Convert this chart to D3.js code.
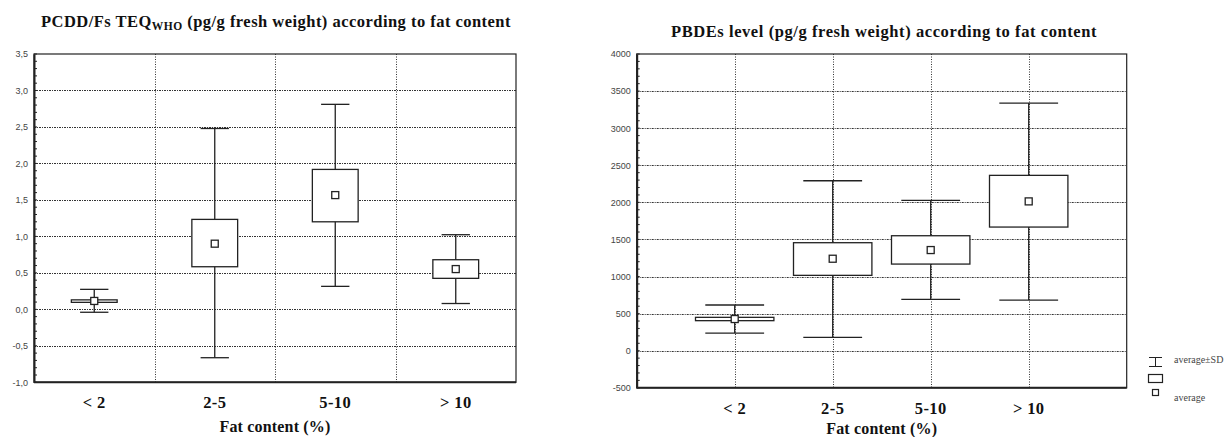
<!DOCTYPE html>
<html><head><meta charset="utf-8">
<script src="https://cdn.jsdelivr.net/npm/d3@7"></script>
<style>
html,body{margin:0;padding:0;background:#fff;}
svg{display:block;}
</style></head>
<body>
<svg id="chart" width="1228" height="437"></svg>
<script>
// ---- data ----
const categories = ["< 2", "2-5", "5-10", "> 10"];

// PCDD/Fs TEQ (pg/g fresh weight)
const pcddMean     = [0.115, 0.90, 1.566, 0.552];
const pcddBoxLow   = [0.096, 0.584, 1.20, 0.425];
const pcddBoxHigh  = [0.130, 1.233, 1.918, 0.680];
const pcddSdLow    = [-0.04, -0.663, 0.315, 0.080];
const pcddSdHigh   = [0.274, 2.479, 2.81, 1.023];
const pcddTicks    = [-1.0, -0.5, 0.0, 0.5, 1.0, 1.5, 2.0, 2.5, 3.0, 3.5];

// PBDEs level (pg/g fresh weight)
const pbdeMean     = [427, 1240, 1357, 2013];
const pbdeBoxLow   = [405, 1016, 1168, 1667];
const pbdeBoxHigh  = [450, 1456, 1550, 2364];
const pbdeSdLow    = [238, 180, 693, 683];
const pbdeSdHigh   = [616, 2291, 2027, 3338];
const pbdeTicks    = [-500, 0, 500, 1000, 1500, 2000, 2500, 3000, 3500, 4000];

const legendLabels = ["average±SD", "", "average"];

// ---- drawing ----
const svg = d3.select("#chart");
const INK = "#222";
const GRID = "#333";
const SERIF = "Liberation Serif, Times New Roman, serif";

function fitWidth(sel, target) {
  const node = sel.node();
  const w = node.getComputedTextLength ? node.getComputedTextLength() : node.getBBox().width;
  const n = (node.textContent || "").length;
  if (n > 1) sel.attr("letter-spacing", ((target - w) / n).toFixed(3));
}

function rows(mean, bl, bh, sl, sh) {
  return categories.map((c, i) => ({cat: c, mean: mean[i], bl: bl[i], bh: bh[i], sl: sl[i], sh: sh[i]}));
}

function drawPanel(opt) {
  const g = svg.append("g");
  const {x0, x1, y0, y1, ticks, fmt, data, mode, boxW, capW} = opt;
  const y = d3.scaleLinear().domain([ticks[0], ticks[ticks.length - 1]]).range([y1, y0]);
  let x, gridX;
  if (mode === "band") {
    x = d3.scaleBand().domain(categories).range([x0, x1]).paddingInner(0).paddingOuter(0);
    gridX = categories.slice(1).map(c => x(c));
    x.center = c => x(c) + x.bandwidth() / 2; x.unit = x.bandwidth();
  } else {
    x = d3.scalePoint().domain(categories).range([x0, x1]).padding(1);
    gridX = categories.map(c => x(c));
    x.center = c => x(c); x.unit = x.step();
  }

  // horizontal grid
  g.append("g").selectAll("line").data(ticks.slice(1, -1)).join("line")
    .attr("x1", x0).attr("x2", x1)
    .attr("y1", d => Math.round(y(d)) + 0.5).attr("y2", d => Math.round(y(d)) + 0.5)
    .attr("stroke", GRID).attr("stroke-width", 1).attr("stroke-dasharray", "2,1,1,1");
  // vertical grid
  g.append("g").selectAll("line").data(gridX).join("line")
    .attr("x1", d => Math.round(d) + 0.5).attr("x2", d => Math.round(d) + 0.5)
    .attr("y1", y0).attr("y2", y1)
    .attr("stroke", GRID).attr("stroke-width", 1).attr("stroke-dasharray", "1,1.5");

  // frame
  g.append("rect").attr("x", x0).attr("y", y0).attr("width", x1 - x0).attr("height", y1 - y0)
    .attr("fill", "none").attr("stroke", INK).attr("stroke-width", 1.2);
  // y axis
  const axis = d3.axisLeft(y).tickValues(ticks).tickFormat(fmt).tickSize(0).tickPadding(6);
  const ag = g.append("g").attr("transform", `translate(${x0},0)`).call(axis);
  ag.select(".domain").attr("stroke", INK).attr("stroke-width", 2);
  ag.selectAll("text").attr("font-family", "Liberation Sans, Arial, sans-serif")
    .attr("font-size", 9).attr("fill", "#444");
  // minor ticks inside
  const step = (ticks[1] - ticks[0]) / 5;
  const minor = d3.range(ticks[0], ticks[ticks.length - 1] + step / 2, step);
  g.append("g").selectAll("line").data(minor).join("line")
    .attr("x1", x0).attr("x2", x0 + 3)
    .attr("y1", d => y(d)).attr("y2", d => y(d))
    .attr("stroke", INK).attr("stroke-width", 1);
  // bottom axis line
  g.append("line").attr("x1", x0).attr("x2", x1).attr("y1", y1).attr("y2", y1)
    .attr("stroke", INK).attr("stroke-width", 2);

  // category labels
  const xg = g.append("g").attr("transform", `translate(0,${y1 + 26})`);
  xg.selectAll("text").data(categories).join("text")
    .attr("x", d => x.center(d)).attr("y", 0)
    .attr("text-anchor", "middle")
    .attr("font-family", SERIF)
    .attr("font-weight", "bold").attr("font-size", 16.5).attr("letter-spacing", 0.4).attr("fill", "#111")
    .text(d => d);
  const xt = g.append("text").attr("x", (x0 + x1) / 2).attr("y", opt.xtitleY)
    .attr("text-anchor", "middle")
    .attr("font-family", SERIF)
    .attr("font-weight", "bold").attr("font-size", 16).attr("fill", "#111")
    .text("Fat content (%)");
  fitWidth(xt, 111);

  // boxes
  const bw = x.unit * boxW, cw = x.unit * capW;
  const b = g.append("g").selectAll("g").data(data).join("g");
  b.append("line").attr("x1", d => x.center(d.cat)).attr("x2", d => x.center(d.cat))
    .attr("y1", d => y(d.sh)).attr("y2", d => y(d.sl))
    .attr("stroke", INK).attr("stroke-width", 1.3);
  b.append("line").attr("x1", d => x.center(d.cat) - cw / 2).attr("x2", d => x.center(d.cat) + cw / 2)
    .attr("y1", d => y(d.sh)).attr("y2", d => y(d.sh))
    .attr("stroke", INK).attr("stroke-width", 1.3);
  b.append("line").attr("x1", d => x.center(d.cat) - cw / 2).attr("x2", d => x.center(d.cat) + cw / 2)
    .attr("y1", d => y(d.sl)).attr("y2", d => y(d.sl))
    .attr("stroke", INK).attr("stroke-width", 1.3);
  b.append("rect").attr("x", d => x.center(d.cat) - bw / 2).attr("width", bw)
    .attr("y", d => y(d.bh)).attr("height", d => Math.max(2, y(d.bl) - y(d.bh)))
    .attr("fill", "#fff").attr("stroke", INK).attr("stroke-width", 1.3);
  b.append("rect").attr("x", d => x.center(d.cat) - 3.5).attr("width", 7)
    .attr("y", d => y(d.mean) - 3.5).attr("height", 7)
    .attr("fill", "#fff").attr("stroke", INK).attr("stroke-width", 1.3);
  return g;
}

const commaFmt = d => d3.format(".1f")(d).replace(".", ",").replace("−", "-");

drawPanel({x0: 34, x1: 516, y0: 54, y1: 382.3, ticks: pcddTicks, fmt: commaFmt,
  data: rows(pcddMean, pcddBoxLow, pcddBoxHigh, pcddSdLow, pcddSdHigh),
  mode: "band", boxW: 0.38, capW: 0.235, xtitleY: 432});

drawPanel({x0: 636.7, x1: 1126.7, y0: 54, y1: 387.8, ticks: pbdeTicks,
  fmt: d => d3.format("d")(d).replace("−", "-"),
  data: rows(pbdeMean, pbdeBoxLow, pbdeBoxHigh, pbdeSdLow, pbdeSdHigh),
  mode: "point", boxW: 0.8, capW: 0.6, xtitleY: 434});

// titles
const t1 = svg.append("text").attr("x", 276).attr("y", 26.5).attr("text-anchor", "middle")
  .attr("font-family", SERIF).attr("font-weight", "bold")
  .attr("font-size", 16.5).attr("fill", "#111");
t1.append("tspan").text("PCDD/Fs TEQ");
t1.append("tspan").attr("font-size", 11.5).attr("dy", 3.5).text("WHO");
t1.append("tspan").attr("dy", -3.5).text(" (pg/g fresh weight) according to fat content");
fitWidth(t1, 470);

const t2 = svg.append("text").attr("x", 884).attr("y", 36.5).attr("text-anchor", "middle")
  .attr("font-family", SERIF).attr("font-weight", "bold")
  .attr("font-size", 16.5).attr("fill", "#111")
  .text("PBDEs level (pg/g fresh weight) according to fat content");
fitWidth(t2, 426);

// legend
const lg = svg.append("g").attr("transform", "translate(1148,0)");
lg.append("line").attr("x1", 7.5).attr("x2", 7.5).attr("y1", 357).attr("y2", 367).attr("stroke", INK);
lg.append("line").attr("x1", 1).attr("x2", 14).attr("y1", 357.5).attr("y2", 357.5).attr("stroke", INK);
lg.append("line").attr("x1", 1).attr("x2", 14).attr("y1", 366.5).attr("y2", 366.5).attr("stroke", INK);
lg.append("rect").attr("x", 0.5).attr("y", 374.5).attr("width", 14).attr("height", 8)
  .attr("fill", "#fff").attr("stroke", INK).attr("stroke-width", 1.2);
lg.append("rect").attr("x", 4.5).attr("y", 389.5).attr("width", 6).attr("height", 6)
  .attr("fill", "#fff").attr("stroke", INK).attr("stroke-width", 1.2);
lg.selectAll("text.lab").data(legendLabels).join("text").attr("class", "lab")
  .attr("x", 26).attr("y", (d, i) => [363, 381, 401][i])
  .attr("font-family", SERIF)
  .attr("font-size", 10).attr("fill", "#444").text(d => d);
</script>
</body></html>
